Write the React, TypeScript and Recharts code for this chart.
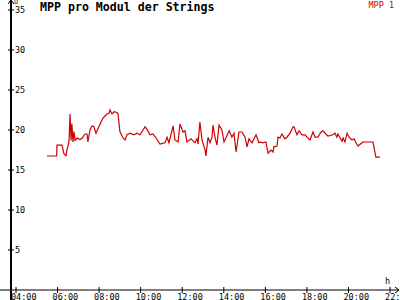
import React from "react";
import { LineChart, Line, XAxis, YAxis, ReferenceLine, ReferenceDot } from "recharts";

// time of day (decimal hours) and MPP voltage per module
const times = [
  5.49, 5.96, 5.97, 6.21, 6.31, 6.41, 6.45, 6.55, 6.6, 6.65, 6.69, 6.74, 6.79, 6.84, 6.94, 7.08, 7.18, 7.32, 7.42, 7.46,
  7.56, 7.66, 7.75, 7.85, 7.95, 8.09, 8.19, 8.28, 8.38, 8.48, 8.52, 8.62, 8.72, 8.86, 8.91, 9.0, 9.15, 9.25, 9.34, 9.49,
  9.68, 9.82, 9.97, 10.21, 10.3, 10.45, 10.59, 10.74, 10.93, 11.17, 11.27, 11.36, 11.56, 11.65, 11.8, 11.89, 12.04, 12.13,
  12.23, 12.42, 12.61, 12.71, 12.76, 12.85, 12.95, 13.1, 13.14, 13.24, 13.34, 13.43, 13.48, 13.58, 13.67, 13.77, 13.91,
  14.01, 14.26, 14.39, 14.49, 14.59, 14.73, 14.88, 15.02, 15.12, 15.21, 15.36, 15.55, 15.69, 15.74, 15.88, 16.03, 16.08,
  16.13, 16.27, 16.37, 16.41, 16.56, 16.61, 16.7, 16.8, 16.94, 17.04, 17.19, 17.33, 17.38, 17.52, 17.62, 17.76, 17.91,
  18.0, 18.15, 18.29, 18.39, 18.53, 18.68, 18.77, 18.91, 19.01, 19.25, 19.35, 19.44, 19.49, 19.69, 19.74, 19.83, 19.93,
  20.03, 20.17, 20.27, 20.36, 20.46, 20.65, 20.7, 21.18, 21.28, 21.32, 21.52,
];
const mpp = [
  16.75, 16.75, 18.1, 18.1, 17.0, 16.8, 17.5, 18.5, 22.0, 18.7, 20.8, 18.5, 19.8, 18.7, 19.0, 18.8, 19.0, 19.5, 19.5, 18.5,
  20.0, 20.5, 20.4, 19.6, 20.2, 21.0, 21.5, 21.75, 22.0, 22.1, 22.5, 22.0, 22.3, 22.2, 22.0, 19.8, 19.0, 18.75, 19.4, 19.6,
  19.4, 19.6, 19.4, 20.4, 20.1, 19.4, 19.5, 19.0, 18.25, 18.4, 19.1, 18.4, 20.5, 18.75, 18.5, 20.75, 19.75, 19.9,
  18.5, 18.9, 18.4, 18.9, 18.25, 21.0, 18.75, 17.5, 16.75, 19.1, 18.4, 19.1, 20.6, 19.0, 18.1, 20.6, 20.0,
  18.5, 19.9, 19.1, 19.6, 17.25, 19.75, 19.75, 19.1, 17.9, 18.9, 18.4, 19.4, 18.4, 18.5, 18.4, 18.5, 17.75,
  17.1, 17.5, 17.25, 17.9, 18.0, 19.1, 19.0, 19.5, 18.9, 19.1, 19.6, 20.4, 20.4, 19.4, 19.9, 19.4, 19.4,
  19.1, 18.75, 19.75, 19.1, 19.1, 19.75, 19.9, 19.5, 19.25, 19.4, 19.6, 19.1, 19.5, 18.6, 19.0, 18.5, 19.6,
  19.1, 18.75, 18.9, 18.4, 18.0, 18.4, 18.5, 18.5, 17.1, 16.6, 16.6,
];

const xTicks = [4, 6, 8, 10, 12, 14, 16, 18, 20, 22];
const xTickLabels = ["04:00", "06:00", "08:00", "10:00", "12:00", "14:00", "16:00", "18:00", "20:00", "22:00"];
const yTicks = [5, 10, 15, 20, 25, 30, 35];

const title = "MPP pro Modul der Strings";
const seriesName = "MPP 1";
const yUnit = "U";
const xUnit = "h";

const X_MIN = 3.23;
const X_MAX = 22.479;
const Y_MIN = -1.25;
const Y_MAX = 36.25;
const Y_AXIS_AT = 3.759;
const X_AXIS_END = 22.43;

const RED = "#cc0000";
const FONT = "'DejaVu Sans Mono', monospace";

const data = times.map((t, i) => ({ t, v: mpp[i] }));

const XTickShape = (label: string) => (p: any) => (
  <g>
    <line x1={p.cx} y1={p.cy - 3} x2={p.cx} y2={p.cy + 3} stroke="#000" strokeWidth={1} />
    <text x={p.cx - 5} y={p.cy + 10} fontFamily={FONT} fontSize={8.5} fill="#000">
      {label}
    </text>
  </g>
);

const YTickShape = (label: string) => (p: any) => (
  <g>
    <line x1={p.cx - 3} y1={p.cy} x2={p.cx + 3} y2={p.cy} stroke="#000" strokeWidth={1} />
    <text x={p.cx + 4} y={p.cy + 3} fontFamily={FONT} fontSize={8.5} fill="#000">
      {label}
    </text>
  </g>
);

const XArrow = (p: any) => (
  <g>
    <polyline points={`${p.cx - 4},${p.cy - 3} ${p.cx},${p.cy} ${p.cx - 4},${p.cy + 3}`} fill="none" stroke="#000" strokeWidth={1} />
    <text x={p.cx - 14} y={p.cy - 6} fontFamily={FONT} fontSize={8.5} fill="#000">
      {xUnit}
    </text>
  </g>
);

const YArrow = (p: any) => (
  <g>
    <polyline points={`${p.cx - 3},${p.cy + 4} ${p.cx},${p.cy} ${p.cx + 3},${p.cy + 4}`} fill="none" stroke="#000" strokeWidth={1} />
    <text x={p.cx + 3} y={p.cy + 4} fontFamily={FONT} fontSize={6.5} fill="#000">
      {yUnit}
    </text>
  </g>
);

export default function App() {
  return (
    <div style={{ position: "absolute", left: 0, top: 0, width: 400, height: 300, background: "#fff" }}>
      <LineChart width={400} height={300} data={data} margin={{ top: 0, right: 0, bottom: 0, left: 0 }}>
        <XAxis dataKey="t" type="number" domain={[X_MIN, X_MAX]} hide allowDataOverflow />
        <YAxis type="number" domain={[Y_MIN, Y_MAX]} hide allowDataOverflow />
        <ReferenceLine
          segment={[{ x: X_MIN, y: 0 }, { x: X_AXIS_END, y: 0 }]}
          stroke="#000"
          strokeWidth={1}
          ifOverflow="visible"
        />
        <ReferenceLine
          segment={[{ x: Y_AXIS_AT, y: Y_MIN }, { x: Y_AXIS_AT, y: Y_MAX }]}
          stroke="#000"
          strokeWidth={2}
          ifOverflow="visible"
        />
        {xTicks.map((t, i) => (
          <ReferenceDot key={"xt" + t} x={t} y={0} ifOverflow="visible" shape={XTickShape(xTickLabels[i])} />
        ))}
        {yTicks.map((v) => (
          <ReferenceDot key={"yt" + v} x={Y_AXIS_AT} y={v} ifOverflow="visible" shape={YTickShape(String(v))} />
        ))}
        <ReferenceDot x={X_AXIS_END} y={0} ifOverflow="visible" shape={XArrow} />
        <ReferenceDot x={Y_AXIS_AT} y={Y_MAX} ifOverflow="visible" shape={YArrow} />
        <Line
          dataKey="v"
          type="linear"
          stroke={RED}
          strokeWidth={1.2}
          dot={false}
          activeDot={false}
          legendType="none"
          isAnimationActive={false}
        />
      </LineChart>
      <div
        style={{
          position: "absolute",
          left: 40,
          top: 0,
          fontFamily: FONT,
          fontWeight: "bold",
          fontSize: 11.6,
          lineHeight: "14px",
          color: "#000",
          whiteSpace: "pre",
        }}
      >
        {title}
      </div>
      <div
        style={{
          position: "absolute",
          right: 6,
          top: 0,
          fontFamily: FONT,
          fontSize: 8.5,
          lineHeight: "11px",
          color: RED,
          whiteSpace: "pre",
        }}
      >
        {seriesName}
      </div>
    </div>
  );
}
